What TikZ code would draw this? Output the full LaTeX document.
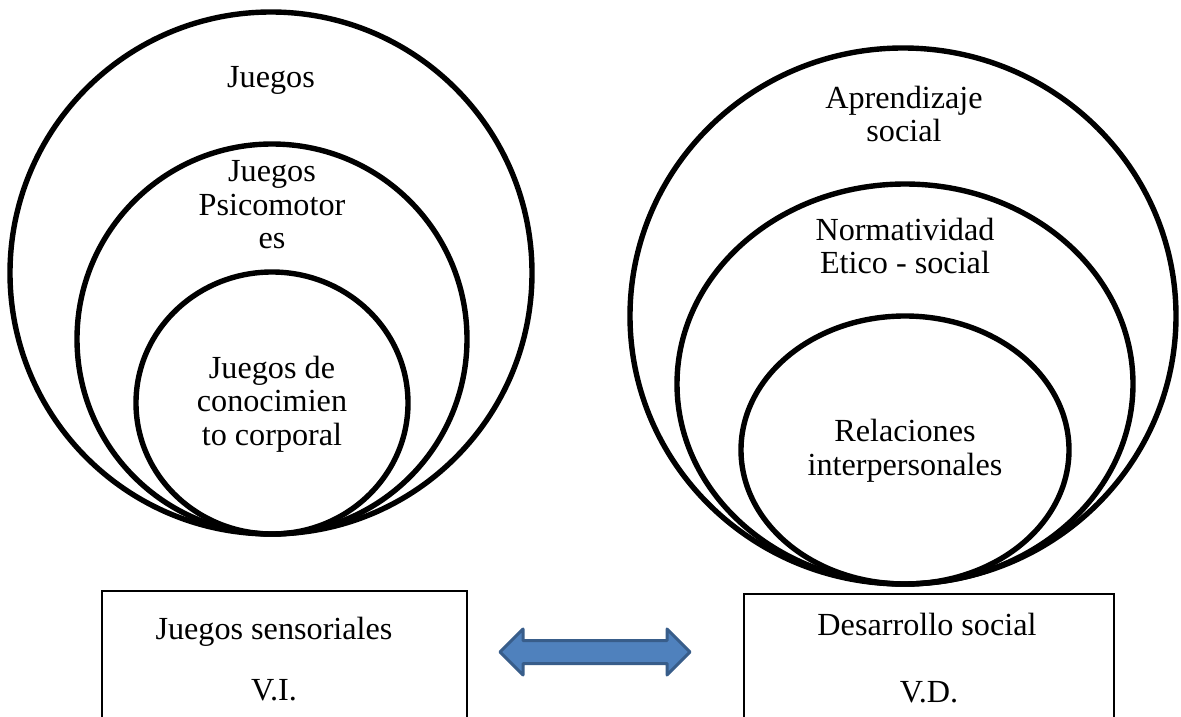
\documentclass[tikz,border=0pt]{standalone}
\usepackage{fontspec}
\setmainfont{Liberation Serif}
\newfontfamily\timesf{Liberation Serif}
\definecolor{arrfill}{HTML}{4F81BD}
\definecolor{arrline}{HTML}{385D8A}
\begin{document}
\begin{tikzpicture}[x=1pt,y=-1pt,
  ring/.style={line width=5.4pt,draw=black},
  lbl/.style={align=center,inner sep=0pt,font=\timesf\fontsize{32.2}{33.5}\selectfont},
  boxnode/.style={draw=black,line width=2pt,rectangle,inner sep=0pt,anchor=north west}]
\useasboundingbox (0,0) rectangle (1181,717);
% left group
\draw[ring] (271,273) ellipse [x radius=261, y radius=261];
\draw[ring] (272,339) ellipse [x radius=195, y radius=195];
\draw[ring] (272,403) ellipse [x radius=136, y radius=131];
% right group
\draw[ring] (903,316) ellipse [x radius=273, y radius=268];
\draw[ring] (905,384) ellipse [x radius=228, y radius=200];
\draw[ring] (905,450) ellipse [x radius=164, y radius=134];
% labels in rings
\node[lbl] (t1) at (271,80) {Juegos};
\node[lbl] (t2) at (272,205) {Juegos\\Psicomotor\\es};
\node[lbl] (t3) at (272,404) {Juegos de\\conocimien\\to corporal};
\node[lbl] (r1) at (904,114) {Aprendizaje\\social};
\node[lbl] (r2) at (905,246) {Normatividad\\Etico - social};
\node[lbl] (r3) at (905,451) {Relaciones\\interpersonales};
% boxes
\node[boxnode,minimum width=365pt,minimum height=150pt] (bl) at (101,590) {};
\node[boxnode,minimum width=370pt,minimum height=150pt] (br) at (743,593) {};
\node[lbl] (bl1) at (274,632) {Juegos sensoriales};
\node[lbl] (bl2) at (274,690) {V.I.};
\node[lbl] (br1) at (927,624) {Desarrollo social};
\node[lbl] (br2) at (929,692) {V.D.};
% double block arrow
\draw[line width=3pt,draw=arrline,fill=arrfill,line join=round]
  (500,652) -- (523,629) -- (523,640.5) -- (667,640.5) -- (667,629) -- (690,652)
  -- (667,675) -- (667,663.5) -- (523,663.5) -- (523,675) -- cycle;
\end{tikzpicture}
\end{document}
